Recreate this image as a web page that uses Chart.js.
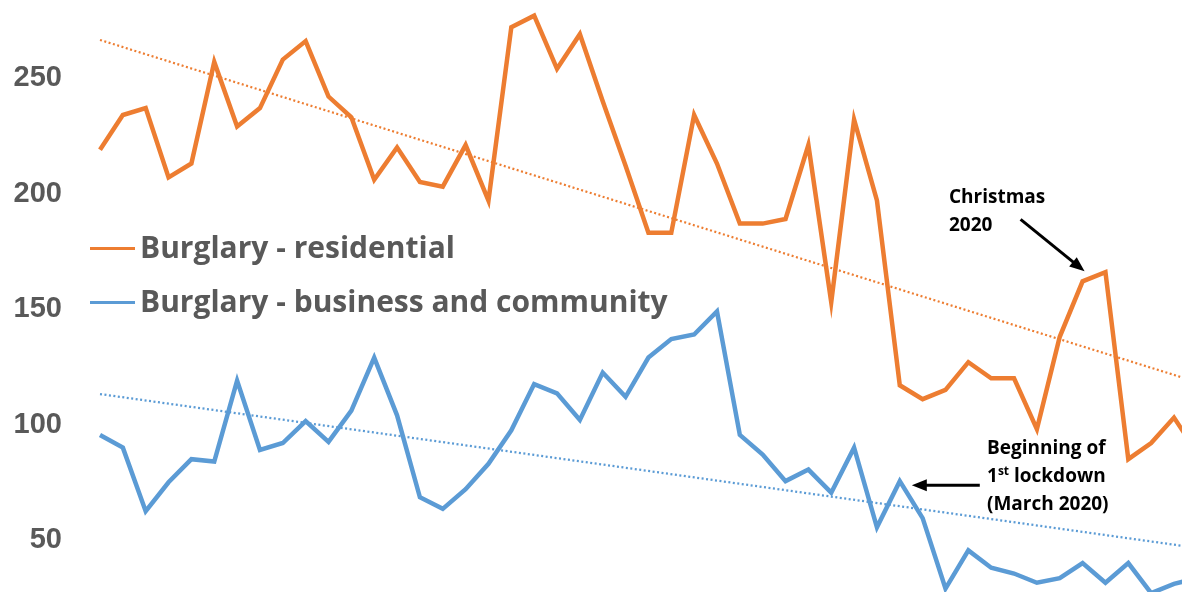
<!doctype html>
<html>
<head>
<meta charset="utf-8">
<title>Burglary</title>
<script src="https://cdn.jsdelivr.net/npm/chart.js@4/dist/chart.umd.min.js"></script>
<style>
  body { margin: 0; overflow: hidden; background: #fff; }
  #wrap { position: relative; width: 1182px; height: 592px; }
  .leg { position: absolute; left: 90px; font: bold 30px "Open Sans", sans-serif; color: #595959; white-space: nowrap; line-height: 40px; }
  .leg i { display: inline-block; width: 45px; height: 3px; vertical-align: middle; margin-right: 5px; position: relative; top: -1px; }
  .note { position: absolute; font: bold 19px "Open Sans", sans-serif; color: #000; line-height: 28px; white-space: nowrap; }
  .note sup { font-size: 12px; line-height: 0; }
</style>
</head>
<body>
<div id="wrap">
  <canvas id="chart" width="1182" height="592"></canvas>
  <div class="leg" style="top:227px"><i style="background:#ed7d31"></i>Burglary - residential</div>
  <div class="leg" style="top:281px"><i style="background:#5b9bd5"></i>Burglary - business and community</div>
  <div class="note" style="left:949px; top:182px">Christmas<br>2020</div>
  <div class="note" style="left:987px; top:433px">Beginning of<br>1<sup>st</sup> lockdown<br>(March 2020)</div>
</div>

<script>
// monthly counts (last point is cut by the right edge)
var residential = [219, 234, 237, 207, 213, 257, 229, 237, 258, 266,
                   242, 233, 206, 220, 205, 203, 221, 197, 272, 277,
                   254, 269, 240, 212, 183, 183, 234, 213, 187, 187,
                   189, 221, 153, 232, 197, 117, 111, 115, 127, 120,
                   120, 98, 138, 162, 166, 85, 92, 103, 88];
var business = [95.5, 90, 62.5, 75, 85, 84, 119, 89, 92, 101.5,
                92.5, 106, 129, 104, 68.5, 63.5, 72, 83, 97.5, 117.5,
                113.5, 102, 122.5, 112, 129, 137, 139, 149, 95.5, 87,
                75.5, 80.5, 70.5, 90, 55.5, 75.5, 59.5, 29, 45.5, 38,
                35.5, 31.5, 33.5, 40, 31.5, 40, 27, 31, 33.5];

// linear trend lines: value at first and last month
var trendResidential = [266.5, 118.4];
var trendBusiness = [113.2, 46.6];

var yTicks = [50, 100, 150, 200, 250];

var christmasIdx = 43;
var lockdownIdx = 35;

function pts(arr) {
    return arr.map(function (v, i) { return { x: i, y: v }; });
}
function trend(ends, n) {
    return [{ x: 0, y: ends[0] }, { x: n - 1, y: ends[1] }];
}

function arrow(ctx, x1, y1, x2, y2) {
    var a = Math.atan2(y2 - y1, x2 - x1);
    var len = 15, w = 6;
    ctx.save();
    ctx.strokeStyle = '#000';
    ctx.fillStyle = '#000';
    ctx.lineWidth = 3;
    ctx.beginPath();
    ctx.moveTo(x1, y1);
    ctx.lineTo(x2 - Math.cos(a) * (len - 2), y2 - Math.sin(a) * (len - 2));
    ctx.stroke();
    ctx.beginPath();
    ctx.moveTo(x2, y2);
    ctx.lineTo(x2 - Math.cos(a) * len - Math.sin(a) * w, y2 - Math.sin(a) * len + Math.cos(a) * w);
    ctx.lineTo(x2 - Math.cos(a) * len + Math.sin(a) * w, y2 - Math.sin(a) * len - Math.cos(a) * w);
    ctx.closePath();
    ctx.fill();
    ctx.restore();
}

var arrows = {
    id: 'arrows',
    afterDatasetsDraw: function (chart) {
        var ctx = chart.ctx, xs = chart.scales.x, ys = chart.scales.y;
        var cx = xs.getPixelForValue(christmasIdx) + 2;
        var cy = ys.getPixelForValue(residential[christmasIdx]) - 10;
        arrow(ctx, cx - 64, cy - 52, cx, cy);
        var lx = xs.getPixelForValue(lockdownIdx) + 12;
        var ly = ys.getPixelForValue(business[lockdownIdx]) + 4;
        arrow(ctx, lx + 68, ly, lx, ly);
    }
};

var n = residential.length;

new Chart(document.getElementById('chart'), {
    type: 'line',
    data: {
        datasets: [
            { label: 'Burglary - residential', data: pts(residential), borderColor: '#ed7d31', borderWidth: 4.5, pointRadius: 0, tension: 0 },
            { label: 'Burglary - business and community', data: pts(business), borderColor: '#5b9bd5', borderWidth: 4.5, pointRadius: 0, tension: 0 },
            { label: 'trend residential', data: trend(trendResidential, n), borderColor: '#ed7d31', borderWidth: 2.2, borderDash: [2, 2.5], pointRadius: 0 },
            { label: 'trend business', data: trend(trendBusiness, n), borderColor: '#5b9bd5', borderWidth: 2.2, borderDash: [2, 2.5], pointRadius: 0 }
        ]
    },
    options: {
        responsive: false,
        animation: false,
        devicePixelRatio: 1,
        layout: { padding: 0 },
        plugins: { legend: { display: false }, tooltip: { enabled: false } },
        scales: {
            x: { type: 'linear', display: false, min: -0.525, max: 47.35 },
            y: {
                min: 27.5,
                max: 283.8,
                afterFit: function (s) { s.width = 88; s.paddingTop = 0; s.paddingBottom = 0; },
                afterBuildTicks: function (s) { s.ticks = yTicks.map(function (v) { return { value: v }; }); },
                grid: { display: false, drawTicks: false },
                border: { display: false },
                ticks: { padding: 26, color: '#595959', font: { family: 'Liberation Sans', size: 29, weight: 'bold' } }
            }
        }
    },
    plugins: [arrows]
});
</script>
</body>
</html>
